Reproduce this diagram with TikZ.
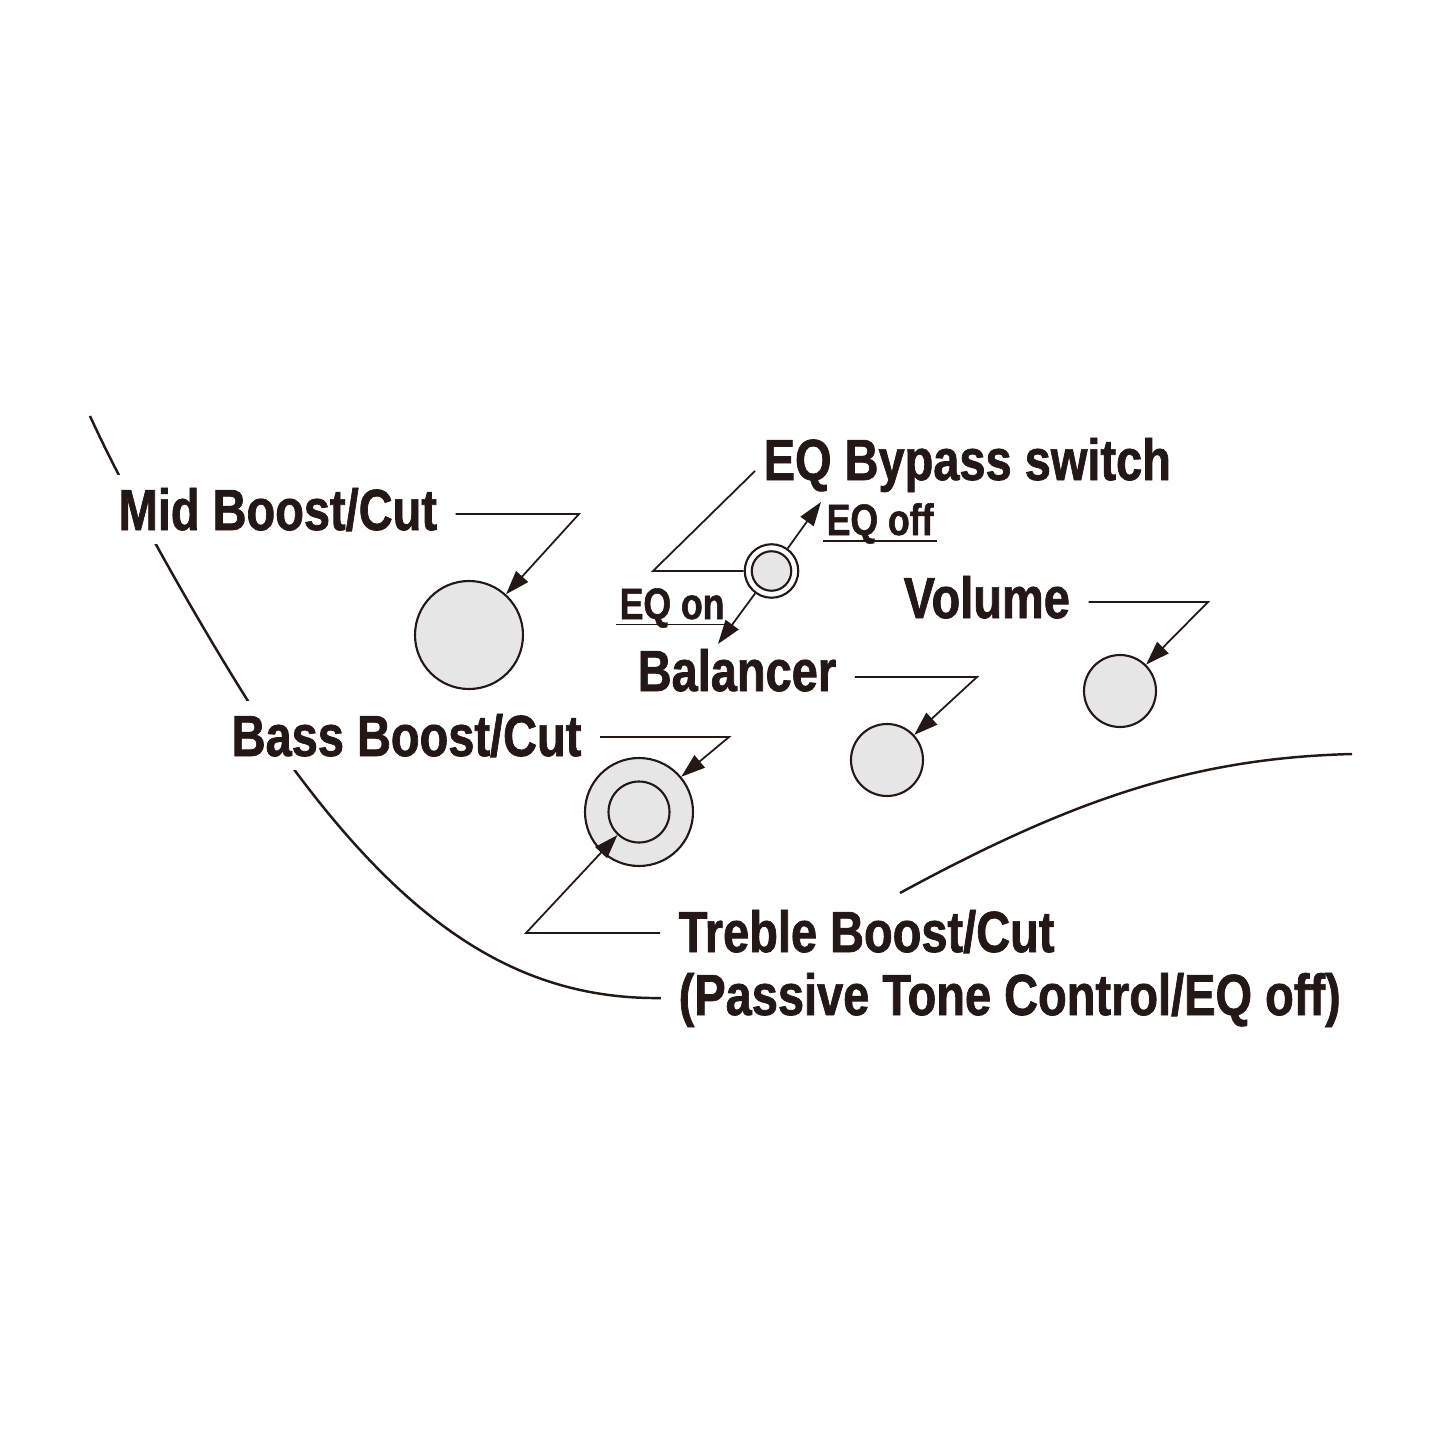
\documentclass[tikz,border=0pt]{standalone}
\usepackage{fontspec}
\setmainfont{Liberation Sans}[FakeStretch=0.81, BoldFeatures={FakeBold=1.2}]
\usepackage{tikz}
\usetikzlibrary{arrows.meta, calc}
\definecolor{ink}{HTML}{231815}
\definecolor{knobgray}{HTML}{E6E6E6}
\tikzset{
  lbl/.style     = {font=\bfseries\fontsize{16.5}{18}\selectfont, text=ink, fill=white,
                    inner xsep=1.8mm, inner ysep=1.3mm, anchor=base west},
  sublbl/.style  = {font=\bfseries\fontsize{12.5}{14}\selectfont, text=ink,
                    inner sep=0.3mm, anchor=base west},
  knob/.style    = {circle, draw=ink, line width=0.6pt, fill=knobgray, inner sep=0pt},
  body/.style    = {draw=ink, line width=0.7pt},
  lead/.style    = {draw=ink, line width=0.5pt},
  ar/.style      = {lead, -{Triangle[length=2.4mm,width=1.6mm]}},
  ul/.style      = {draw=ink, line width=0.55pt},
}

\begin{document}
\begin{tikzpicture}[x=0.1mm, y=-0.1mm]

  \path[fill=white, use as bounding box] (0,0) rectangle (1445,1445);

  % ----- body outline -----
  \draw[body] (90,416) .. controls (135,515) and (243,701) .. (293,768)
                       .. controls (410,926) and (520,1000) .. (662,998);
  \draw[body] (900,893) .. controls (1080,795) and (1200,758) .. (1352,754);

  % ----- labels -----
  \node[lbl] (midlbl) at (100,530) {Mid Boost/Cut};
  \node[lbl] (bypasslbl) at (745,480) {EQ Bypass switch};
  \node[sublbl] (offlbl) at (823,535) {EQ off};
  \node[sublbl] (onlbl) at (616,619) {EQ on};
  \node[lbl] (vollbl) at (885,618) {Volume};
  \node[lbl] (ballbl) at (619,691) {Balancer};
  \node[lbl] (basslbl) at (213,756) {Bass Boost/Cut};
  \node[lbl] (treblelbl) at (660,952) {Treble Boost/Cut};
  \node[lbl] (passivelbl) at (660,1015) {(Passive Tone Control/EQ off)};

  \draw[ul] ([yshift=-0.6mm]offlbl.base west) -- ([yshift=-0.6mm]offlbl.base east);
  \draw[ul] ([yshift=-0.55mm]onlbl.base west) -- ([yshift=-0.55mm]onlbl.base east);

  % ----- knobs -----
  \node[knob, minimum size=10.8mm] (midknob) at (469,635) {};
  \node[knob, minimum size=10.8mm] (bassknob) at (639,812) {};
  \node[knob, minimum size=6.1mm] (trebleknob) at (639,812) {};
  \node[knob, minimum size=7.2mm] (balknob) at (887,760) {};
  \node[knob, minimum size=7.2mm] (volknob) at (1120,691) {};
  \node[knob, fill=white, minimum size=5.35mm] (eqsw) at (771.5,571) {};
  \node[knob, minimum size=3.95mm] (eqcap) at (771.5,571) {};

  % ----- leaders -----
  \coordinate (midbend) at (579,514);
  \coordinate (bassbend) at (729,737);
  \coordinate (balbend) at (977,677);
  \coordinate (volbend) at (1208,602);
  \coordinate (treblebend) at (526,933);
  \coordinate (bypassbend) at (653,571);
  \coordinate (offtip) at (821,502);
  \coordinate (ontip) at (718,644);

  \draw[ar] (midlbl.east |- midbend) -- (midbend) -- (midknob);
  \draw[ar] (basslbl.east |- bassbend) -- (bassbend) -- (bassknob);
  \draw[ar] (ballbl.east |- balbend) -- (balbend) -- (balknob);
  \draw[ar] (vollbl.east |- volbend) -- (volbend) -- (volknob);
  \draw[ar] (treblelbl.west |- treblebend) -- (treblebend) -- (trebleknob);
  \draw[lead] ($(bypasslbl.base west)+(10,-9)$) -- (bypassbend) -- (eqsw);
  \draw[ar] (eqsw) -- (offtip);
  \draw[ar] (eqsw) -- (ontip);

\end{tikzpicture}
\end{document}
